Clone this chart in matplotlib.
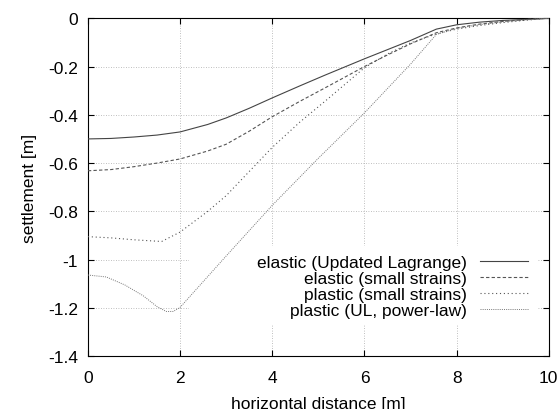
import matplotlib
matplotlib.use('Agg')
import matplotlib.pyplot as plt
from matplotlib.patches import Rectangle

plt.rcParams['font.family'] = ['Liberation Sans', 'DejaVu Sans']

# elastic (Updated Lagrange)
x_el_ul = [0, 0.5, 1, 1.5, 2, 2.6, 3, 3.5, 4, 4.6, 5.14, 6, 6.5, 7, 7.56, 8, 8.5, 9, 9.6, 10]
y_el_ul = [-0.500, -0.498, -0.492, -0.484, -0.471, -0.440, -0.413, -0.373, -0.330, -0.280,
           -0.236, -0.168, -0.130, -0.092, -0.045, -0.027, -0.016, -0.009, -0.004, 0.0]

# elastic (small strains)
x_el_ss = [0, 0.5, 1, 1.5, 2, 2.6, 3, 3.5, 4, 4.6, 5.14, 6, 6.5, 7, 7.56, 8, 8.5, 9, 9.5, 10]
y_el_ss = [-0.632, -0.627, -0.615, -0.600, -0.583, -0.550, -0.522, -0.468, -0.408, -0.344,
           -0.289, -0.200, -0.152, -0.106, -0.060, -0.040, -0.024, -0.013, -0.005, 0.0]

# plastic (small strains)
x_pl_ss = [0, 0.5, 1, 1.6, 2, 2.6, 3, 3.6, 4, 4.6, 5.2, 6, 6.5, 7, 7.56, 8, 8.5, 9, 9.5, 10]
y_pl_ss = [-0.905, -0.910, -0.918, -0.925, -0.886, -0.800, -0.735, -0.615, -0.535, -0.430,
           -0.335, -0.205, -0.148, -0.102, -0.065, -0.045, -0.030, -0.018, -0.008, 0.0]

# plastic (UL, power-law)
x_pl_ul = [0, 0.4, 0.8, 1.2, 1.5, 1.7, 1.85, 2, 3, 4, 5, 6, 7, 7.56, 8, 8.5, 9, 9.5, 10]
y_pl_ul = [-1.064, -1.072, -1.105, -1.150, -1.195, -1.215, -1.215, -1.198, -0.985, -0.775,
           -0.580, -0.392, -0.190, -0.067, -0.042, -0.026, -0.015, -0.007, 0.0]

labels = ['elastic (Updated Lagrange)', 'elastic (small strains)',
          'plastic (small strains)', 'plastic (UL, power-law)']

fig = plt.figure(figsize=(5.6, 4.1), dpi=100)
ax = fig.add_axes([0.157, 0.129, 0.823, 0.824])

ax.plot(x_el_ul, y_el_ul, color='#444444', lw=0.8, label=labels[0], zorder=3)
ax.plot(x_el_ss, y_el_ss, color='#555555', lw=0.8, dashes=(3, 2), label=labels[1], zorder=3)
ax.plot(x_pl_ss, y_pl_ss, color='#555555', lw=0.8, dashes=(1, 2.5), label=labels[2], zorder=3)
ax.plot(x_pl_ul, y_pl_ul, color='#777777', lw=0.7, dashes=(1, 1.2), label=labels[3], zorder=3)

# white area behind the key, hides the grid
ax.add_patch(Rectangle((0.22, 0.095), 0.756, 0.23, transform=ax.transAxes,
                       facecolor='white', edgecolor='none', zorder=1))

ax.set_xlim(0, 10)
ax.set_ylim(-1.4, 0)
ax.set_xticks([0, 2, 4, 6, 8, 10])
ax.set_yticks([-1.4, -1.2, -1, -0.8, -0.6, -0.4, -0.2, 0])
ax.set_yticklabels(['-1.4', '-1.2', '-1', '-0.8', '-0.6', '-0.4', '-0.2', '0'])
ax.set_axisbelow(True)
ax.grid(True, color='#aaaaaa', linestyle=(0, (1, 2)), linewidth=0.6)
ax.tick_params(direction='in', top=True, right=True, length=4, width=0.8, labelsize=12.5)
ax.tick_params(axis='x', pad=10)
ax.tick_params(axis='y', pad=7)
for s in ax.spines.values():
    s.set_linewidth(0.8)

ax.set_xlabel('horizontal distance [m]', fontsize=12.5, labelpad=8)
ax.set_ylabel('settlement [m]', fontsize=12.5, labelpad=8)

ax.legend(loc='lower right', bbox_to_anchor=(0.954, 0.112), markerfirst=False, frameon=False,
          fontsize=12.5, handlelength=2.76, handletextpad=0.75, labelspacing=0.05,
          borderpad=0, borderaxespad=0)

fig.savefig('out.png', dpi=100)
